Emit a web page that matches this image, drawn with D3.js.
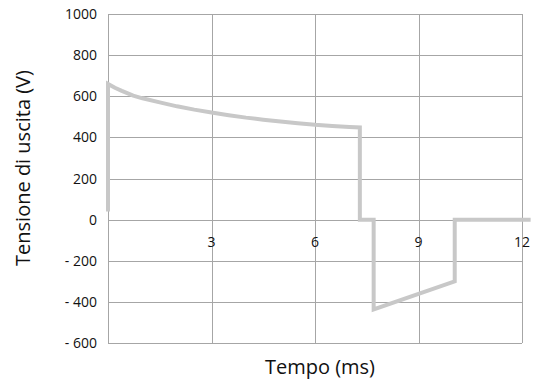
<!DOCTYPE html>
<html>
<head>
<meta charset="utf-8">
<script src="https://cdn.jsdelivr.net/npm/d3@7"></script>
<style>
  body { margin: 0; background: #fff; }
  svg text { font-family: "Open Sans", sans-serif; fill: #111; }
</style>
</head>
<body>
<div id="chart"></div>
<script>
// tick values
const xTicks = [3, 6, 9, 12];
const yTicks = [-600, -400, -200, 0, 200, 400, 600, 800, 1000];

// output voltage trace (time ms, volts)
const timeMs = [0, 0, 0.2, 0.4, 0.73, 1, 1.5, 2, 2.5, 3, 3.5, 4, 4.5, 5, 5.5, 6, 6.5, 7, 7.3,
                7.3, 7.7, 7.7, 10.05, 10.05, 12.25];
const volts = [40, 660, 641, 626, 603, 590, 570, 551, 535, 521, 508, 496, 486, 477, 469, 461, 455, 450, 448,
               0, 0, -437, -300, 0, 0];

const width = 537, height = 381;
const plotLeft = 108, plotRight = 522, plotTop = 14, plotBottom = 343;

const svg = d3.select("#chart").append("svg")
  .attr("width", width)
  .attr("height", height);

const x = d3.scaleLinear().domain([0, 12]).range([plotLeft, plotRight]);
const y = d3.scaleLinear().domain([-600, 1000]).range([plotBottom, plotTop]);

// grid
const grid = svg.append("g").attr("stroke", "#a6a6a6").attr("stroke-width", 1);
grid.selectAll("line.h")
  .data(yTicks)
  .enter().append("line")
  .attr("class", "h")
  .attr("x1", plotLeft).attr("x2", plotRight)
  .attr("y1", d => Math.round(y(d)) + 0.5).attr("y2", d => Math.round(y(d)) + 0.5);
grid.selectAll("line.v")
  .data([0].concat(xTicks))
  .enter().append("line")
  .attr("class", "v")
  .attr("x1", d => Math.round(x(d)) + 0.5).attr("x2", d => Math.round(x(d)) + 0.5)
  .attr("y1", plotTop).attr("y2", plotBottom);

// y tick labels
svg.selectAll("text.ytick")
  .data(yTicks)
  .enter().append("text")
  .attr("class", "ytick")
  .attr("x", 97)
  .attr("y", d => y(d) + 5)
  .attr("text-anchor", "end")
  .style("font-size", "14px")
  .text(d => d < 0 ? "- " + Math.abs(d) : d);

// x tick labels sit inside the plot, under the zero line
svg.selectAll("text.xtick")
  .data(xTicks)
  .enter().append("text")
  .attr("class", "xtick")
  .attr("x", d => x(d))
  .attr("y", y(0) + 27)
  .attr("text-anchor", "middle")
  .style("font-size", "14px")
  .text(d => d);

// trace
const line = d3.line()
  .x(d => x(d[0]))
  .y(d => y(d[1]));
const pts = timeMs.map((t, i) => [t, volts[i]]);
svg.append("path")
  .datum(pts)
  .attr("d", line)
  .attr("fill", "none")
  .attr("stroke", "#c8c8c8")
  .attr("stroke-width", 4);

// axis titles
svg.append("text")
  .attr("x", 320)
  .attr("y", 374)
  .attr("text-anchor", "middle")
  .style("font-size", "20px")
  .text("Tempo (ms)");

svg.append("text")
  .attr("transform", "translate(30,168) rotate(-90)")
  .attr("text-anchor", "middle")
  .style("font-size", "20px")
  .text("Tensione di uscita (V)");
</script>
</body>
</html>
